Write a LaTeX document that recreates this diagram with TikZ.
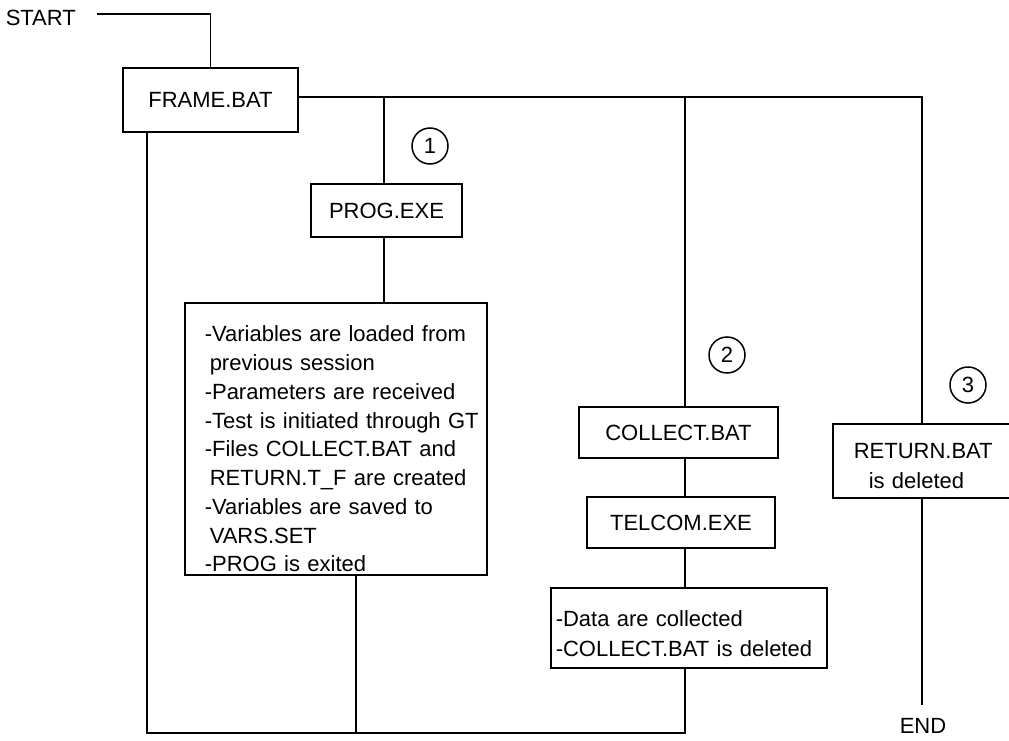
\documentclass[tikz,border=0pt]{standalone}
\usepackage{fontspec}
\setmainfont{Liberation Sans}
\begin{document}
\begin{tikzpicture}[x=1pt, y=-1pt, line width=1.5pt,
    txt/.style={font=\fontsize{22}{30}\selectfont, inner sep=0pt},
    box/.style={txt, draw, minimum width=#1pt},
    note/.style={txt, draw, align=left, anchor=north west},
    num/.style={txt, draw, circle, minimum size=36pt}]
  \useasboundingbox (0,0) rectangle (1009,741);
  % programs and batch files
  \node[txt, anchor=west] (start) at (5,18) {START};
  \node[box=175, minimum height=64pt] (frame) at (210.5,100) {FRAME.BAT};
  \node[box=151, minimum height=53pt] (prog) at (386.5,210.5) {PROG.EXE};
  \node[note, font=\fontsize{22}{28.75}\selectfont, inner xsep=20pt, text width=262pt] (vars) at (184,302)
    {\rule{0pt}{39pt}-Variables are loaded from\\
     \hspace*{5pt}previous session\\
     -Parameters are received\\
     \mbox{-Test is initiated through GT}\\
     -Files COLLECT.BAT and\\
     \hspace*{5pt}RETURN.T\_F are created\\
     -Variables are saved to\\
     \hspace*{5pt}VARS.SET\\
     -PROG is exited\rule[-3pt]{0pt}{3pt}};
  \node[box=199, minimum height=51pt] (collect) at (678.5,432.5) {COLLECT.BAT};
  \node[box=188, minimum height=51pt] (telcom) at (681,522.5) {TELCOM.EXE};
  \node[note, inner xsep=5pt, text width=266pt] (data) at (550,587)
    {\rule{0pt}{39pt}-Data are collected\\ -COLLECT.BAT is deleted\rule[-11pt]{0pt}{11pt}};
  \node[note, inner xsep=21pt, text width=158pt] (ret) at (832,423)
    {\rule{0pt}{35pt}RETURN.BAT\\ \hspace*{15pt}is deleted\rule[-9pt]{0pt}{9pt}};
  \node[txt] (fin) at (923,726) {END};
  \foreach \n/\px/\py in {1/430/146, 2/727/355, 3/968/385}
    \node[num] (c\n) at (\px,\py) {\n};
  % wiring
  \coordinate (s0) at (97,14);
  \coordinate (j1) at (384,97);
  \coordinate (j2) at (685,97);
  \coordinate (j3) at (922,97);
  \coordinate (b1) at (147,733);
  \coordinate (b2) at (356,733);
  \coordinate (b3) at (685,733);
  \coordinate (e0) at (922,705);
  \draw (s0) -| (frame.north);
  \draw (frame.east |- j3) -- (j3) -- (j3 |- ret.north);
  \draw (j3 |- ret.south) -- (e0);
  \draw (j1) -- (j1 |- prog.north);
  \draw (j1 |- prog.south) -- (j1 |- vars.north);
  \draw (j2) -- (j2 |- collect.north);
  \draw (j2 |- collect.south) -- (j2 |- telcom.north);
  \draw (j2 |- telcom.south) -- (j2 |- data.north);
  \draw (j2 |- data.south) -- (b3) -- (b1) -- (b1 |- frame.south);
  \draw (b2 |- vars.south) -- (b2);
\end{tikzpicture}
\end{document}
